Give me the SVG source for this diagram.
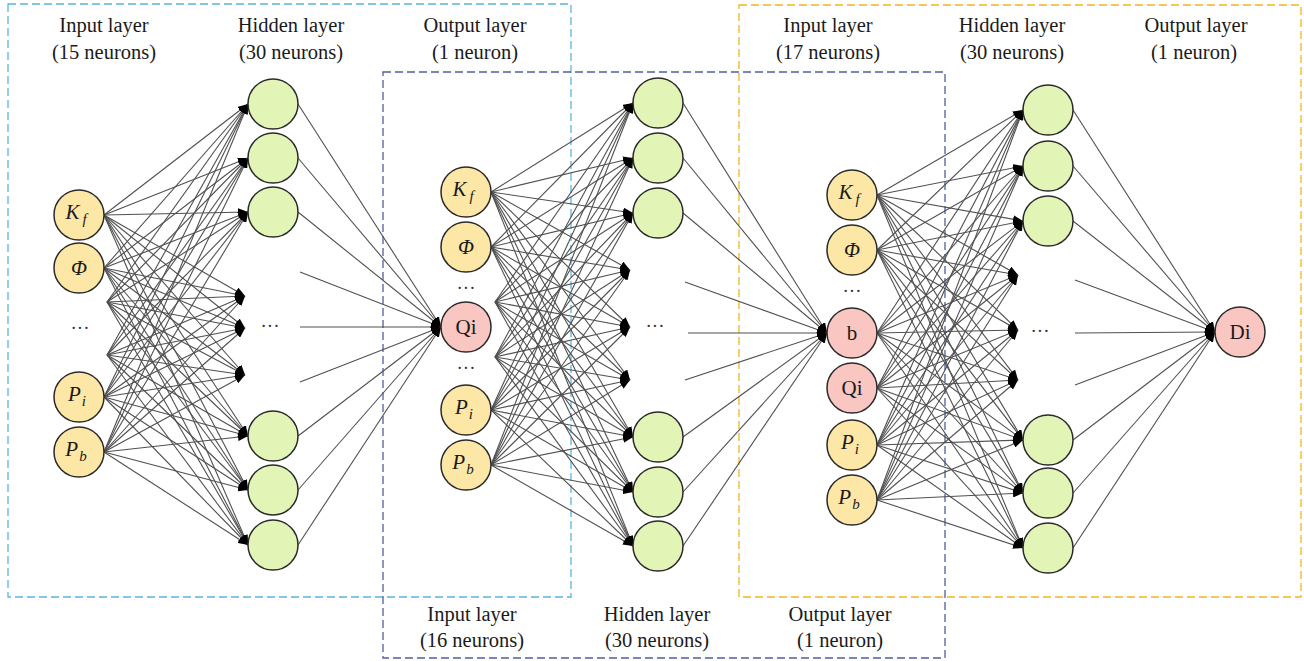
<svg xmlns="http://www.w3.org/2000/svg" width="1304" height="661" viewBox="0 0 1304 661">
<style>
  .lbl { font-family: "Liberation Serif", "DejaVu Serif", serif; font-size: 20.5px; fill: #1a1a1a; text-anchor: middle; }
  .nl { font-family: "Liberation Serif", "DejaVu Serif", serif; font-size: 21px; fill: #1a1a1a; text-anchor: middle; dominant-baseline: central; }
  .it { font-style: italic; }
  .sub { font-size: 15px; }
  .in { fill: #fde7a6; stroke: #2a2a2a; stroke-width: 1.5; }
  .hid { fill: #e2f5b6; stroke: #2a2a2a; stroke-width: 1.5; }
  .out { fill: #fac6c2; stroke: #2a2a2a; stroke-width: 1.5; }
  .dots { font-family: "Liberation Serif", "DejaVu Serif", serif; font-size: 19px; fill: #333; text-anchor: middle; }
  .edges line { stroke: #505050; stroke-width: 1.1; marker-end: url(#ah); }
  .box { fill: none; stroke-width: 1.3; stroke-dasharray: 8 4; }
</style>
<defs>
  <marker id="ah" viewBox="0 0 10 8" refX="10" refY="4" markerWidth="10" markerHeight="8" markerUnits="userSpaceOnUse" orient="auto">
    <path d="M0,0 L10,4 L0,8 z" fill="#000"/>
  </marker>
</defs>
<rect width="1304" height="661" fill="#fff"/>

<!-- dashed network frames -->
<g id="frames">
  <rect class="box" x="8" y="4" width="563" height="593" stroke="#5ab4e0"/>
  <rect class="box" x="383" y="72" width="562" height="586" stroke="#4f5fa0"/>
  <rect class="box" x="739" y="5" width="562" height="592" stroke="#f2b51c"/>
</g>

<!-- layer captions -->
<g id="captions">
  <text class="lbl" x="104" y="32">Input layer</text>
  <text class="lbl" x="104" y="59">(15 neurons)</text>
  <text class="lbl" x="291" y="32">Hidden layer</text>
  <text class="lbl" x="291" y="59">(30 neurons)</text>
  <text class="lbl" x="475" y="32">Output layer</text>
  <text class="lbl" x="475" y="59">(1 neuron)</text>
  <text class="lbl" x="828" y="32">Input layer</text>
  <text class="lbl" x="828" y="59">(17 neurons)</text>
  <text class="lbl" x="1012" y="32">Hidden layer</text>
  <text class="lbl" x="1012" y="59">(30 neurons)</text>
  <text class="lbl" x="1196" y="32">Output layer</text>
  <text class="lbl" x="1194" y="59">(1 neuron)</text>
  <text class="lbl" x="472" y="621">Input layer</text>
  <text class="lbl" x="472" y="647">(16 neurons)</text>
  <text class="lbl" x="657" y="621">Hidden layer</text>
  <text class="lbl" x="657" y="647">(30 neurons)</text>
  <text class="lbl" x="840" y="621">Output layer</text>
  <text class="lbl" x="840" y="647">(1 neuron)</text>
</g>

<!-- connections -->
<g id="connectors" class="edges">
  <!-- net 1: input -> hidden -->
  <line x1="104" y1="215" x2="248" y2="104"/><line x1="104" y1="215" x2="248" y2="158"/><line x1="104" y1="215" x2="248" y2="212"/><line x1="104" y1="215" x2="245" y2="296"/><line x1="104" y1="215" x2="245" y2="328"/><line x1="104" y1="215" x2="245" y2="375"/><line x1="104" y1="215" x2="248" y2="436"/><line x1="104" y1="215" x2="248" y2="490"/><line x1="104" y1="215" x2="248" y2="545"/>
  <line x1="104" y1="268" x2="248" y2="104"/><line x1="104" y1="268" x2="248" y2="158"/><line x1="104" y1="268" x2="248" y2="212"/><line x1="104" y1="268" x2="245" y2="296"/><line x1="104" y1="268" x2="245" y2="328"/><line x1="104" y1="268" x2="245" y2="375"/><line x1="104" y1="268" x2="248" y2="436"/><line x1="104" y1="268" x2="248" y2="490"/><line x1="104" y1="268" x2="248" y2="545"/>
  <line x1="107" y1="302" x2="248" y2="104"/><line x1="107" y1="302" x2="248" y2="158"/><line x1="107" y1="302" x2="248" y2="212"/><line x1="107" y1="302" x2="245" y2="296"/><line x1="107" y1="302" x2="245" y2="328"/><line x1="107" y1="302" x2="245" y2="375"/><line x1="107" y1="302" x2="248" y2="436"/><line x1="107" y1="302" x2="248" y2="490"/><line x1="107" y1="302" x2="248" y2="545"/>
  <line x1="107" y1="355" x2="248" y2="104"/><line x1="107" y1="355" x2="248" y2="158"/><line x1="107" y1="355" x2="248" y2="212"/><line x1="107" y1="355" x2="245" y2="296"/><line x1="107" y1="355" x2="245" y2="328"/><line x1="107" y1="355" x2="245" y2="375"/><line x1="107" y1="355" x2="248" y2="436"/><line x1="107" y1="355" x2="248" y2="490"/><line x1="107" y1="355" x2="248" y2="545"/>
  <line x1="104" y1="397" x2="248" y2="104"/><line x1="104" y1="397" x2="248" y2="158"/><line x1="104" y1="397" x2="248" y2="212"/><line x1="104" y1="397" x2="245" y2="296"/><line x1="104" y1="397" x2="245" y2="328"/><line x1="104" y1="397" x2="245" y2="375"/><line x1="104" y1="397" x2="248" y2="436"/><line x1="104" y1="397" x2="248" y2="490"/><line x1="104" y1="397" x2="248" y2="545"/>
  <line x1="104" y1="452" x2="248" y2="104"/><line x1="104" y1="452" x2="248" y2="158"/><line x1="104" y1="452" x2="248" y2="212"/><line x1="104" y1="452" x2="245" y2="296"/><line x1="104" y1="452" x2="245" y2="328"/><line x1="104" y1="452" x2="245" y2="375"/><line x1="104" y1="452" x2="248" y2="436"/><line x1="104" y1="452" x2="248" y2="490"/><line x1="104" y1="452" x2="248" y2="545"/>
  <!-- net 1: hidden -> Qi -->
  <line x1="298" y1="104" x2="441" y2="327"/><line x1="298" y1="158" x2="441" y2="327"/><line x1="298" y1="212" x2="441" y2="327"/><line x1="300" y1="272" x2="441" y2="327"/><line x1="300" y1="327" x2="441" y2="327"/><line x1="300" y1="382" x2="441" y2="327"/><line x1="298" y1="436" x2="441" y2="327"/><line x1="298" y1="490" x2="441" y2="327"/><line x1="298" y1="545" x2="441" y2="327"/>

  <!-- net 2: input -> hidden -->
  <line x1="491" y1="192" x2="633" y2="103"/><line x1="491" y1="192" x2="633" y2="158"/><line x1="491" y1="192" x2="633" y2="213"/><line x1="491" y1="192" x2="630" y2="270"/><line x1="491" y1="192" x2="630" y2="327"/><line x1="491" y1="192" x2="630" y2="380"/><line x1="491" y1="192" x2="633" y2="437"/><line x1="491" y1="192" x2="633" y2="492"/><line x1="491" y1="192" x2="633" y2="546"/>
  <line x1="491" y1="247" x2="633" y2="103"/><line x1="491" y1="247" x2="633" y2="158"/><line x1="491" y1="247" x2="633" y2="213"/><line x1="491" y1="247" x2="630" y2="270"/><line x1="491" y1="247" x2="630" y2="327"/><line x1="491" y1="247" x2="630" y2="380"/><line x1="491" y1="247" x2="633" y2="437"/><line x1="491" y1="247" x2="633" y2="492"/><line x1="491" y1="247" x2="633" y2="546"/>
  <line x1="495" y1="302" x2="633" y2="103"/><line x1="495" y1="302" x2="633" y2="158"/><line x1="495" y1="302" x2="633" y2="213"/><line x1="495" y1="302" x2="630" y2="270"/><line x1="495" y1="302" x2="630" y2="327"/><line x1="495" y1="302" x2="630" y2="380"/><line x1="495" y1="302" x2="633" y2="437"/><line x1="495" y1="302" x2="633" y2="492"/><line x1="495" y1="302" x2="633" y2="546"/>
  <line x1="495" y1="357" x2="633" y2="103"/><line x1="495" y1="357" x2="633" y2="158"/><line x1="495" y1="357" x2="633" y2="213"/><line x1="495" y1="357" x2="630" y2="270"/><line x1="495" y1="357" x2="630" y2="327"/><line x1="495" y1="357" x2="630" y2="380"/><line x1="495" y1="357" x2="633" y2="437"/><line x1="495" y1="357" x2="633" y2="492"/><line x1="495" y1="357" x2="633" y2="546"/>
  <line x1="491" y1="410" x2="633" y2="103"/><line x1="491" y1="410" x2="633" y2="158"/><line x1="491" y1="410" x2="633" y2="213"/><line x1="491" y1="410" x2="630" y2="270"/><line x1="491" y1="410" x2="630" y2="327"/><line x1="491" y1="410" x2="630" y2="380"/><line x1="491" y1="410" x2="633" y2="437"/><line x1="491" y1="410" x2="633" y2="492"/><line x1="491" y1="410" x2="633" y2="546"/>
  <line x1="491" y1="465" x2="633" y2="103"/><line x1="491" y1="465" x2="633" y2="158"/><line x1="491" y1="465" x2="633" y2="213"/><line x1="491" y1="465" x2="630" y2="270"/><line x1="491" y1="465" x2="630" y2="327"/><line x1="491" y1="465" x2="630" y2="380"/><line x1="491" y1="465" x2="633" y2="437"/><line x1="491" y1="465" x2="633" y2="492"/><line x1="491" y1="465" x2="633" y2="546"/>
  <!-- net 2: hidden -> b -->
  <line x1="683" y1="103" x2="827" y2="333"/><line x1="683" y1="158" x2="827" y2="333"/><line x1="683" y1="213" x2="827" y2="333"/><line x1="685" y1="282" x2="827" y2="333"/><line x1="688" y1="333" x2="827" y2="333"/><line x1="685" y1="380" x2="827" y2="333"/><line x1="683" y1="437" x2="827" y2="333"/><line x1="683" y1="492" x2="827" y2="333"/><line x1="683" y1="546" x2="827" y2="333"/>

  <!-- net 3: input -> hidden -->
  <line x1="877" y1="195" x2="1023" y2="110"/><line x1="877" y1="195" x2="1023" y2="166"/><line x1="877" y1="195" x2="1023" y2="221"/><line x1="877" y1="195" x2="1018" y2="275"/><line x1="877" y1="195" x2="1018" y2="330"/><line x1="877" y1="195" x2="1018" y2="380"/><line x1="877" y1="195" x2="1023" y2="440"/><line x1="877" y1="195" x2="1023" y2="493"/><line x1="877" y1="195" x2="1023" y2="548"/>
  <line x1="877" y1="250" x2="1023" y2="110"/><line x1="877" y1="250" x2="1023" y2="166"/><line x1="877" y1="250" x2="1023" y2="221"/><line x1="877" y1="250" x2="1018" y2="275"/><line x1="877" y1="250" x2="1018" y2="330"/><line x1="877" y1="250" x2="1018" y2="380"/><line x1="877" y1="250" x2="1023" y2="440"/><line x1="877" y1="250" x2="1023" y2="493"/><line x1="877" y1="250" x2="1023" y2="548"/>
  <line x1="877" y1="333" x2="1023" y2="110"/><line x1="877" y1="333" x2="1023" y2="166"/><line x1="877" y1="333" x2="1023" y2="221"/><line x1="877" y1="333" x2="1018" y2="275"/><line x1="877" y1="333" x2="1018" y2="330"/><line x1="877" y1="333" x2="1018" y2="380"/><line x1="877" y1="333" x2="1023" y2="440"/><line x1="877" y1="333" x2="1023" y2="493"/><line x1="877" y1="333" x2="1023" y2="548"/>
  <line x1="877" y1="388" x2="1023" y2="110"/><line x1="877" y1="388" x2="1023" y2="166"/><line x1="877" y1="388" x2="1023" y2="221"/><line x1="877" y1="388" x2="1018" y2="275"/><line x1="877" y1="388" x2="1018" y2="330"/><line x1="877" y1="388" x2="1018" y2="380"/><line x1="877" y1="388" x2="1023" y2="440"/><line x1="877" y1="388" x2="1023" y2="493"/><line x1="877" y1="388" x2="1023" y2="548"/>
  <line x1="877" y1="445" x2="1023" y2="110"/><line x1="877" y1="445" x2="1023" y2="166"/><line x1="877" y1="445" x2="1023" y2="221"/><line x1="877" y1="445" x2="1018" y2="275"/><line x1="877" y1="445" x2="1018" y2="330"/><line x1="877" y1="445" x2="1018" y2="380"/><line x1="877" y1="445" x2="1023" y2="440"/><line x1="877" y1="445" x2="1023" y2="493"/><line x1="877" y1="445" x2="1023" y2="548"/>
  <line x1="877" y1="500" x2="1023" y2="110"/><line x1="877" y1="500" x2="1023" y2="166"/><line x1="877" y1="500" x2="1023" y2="221"/><line x1="877" y1="500" x2="1018" y2="275"/><line x1="877" y1="500" x2="1018" y2="330"/><line x1="877" y1="500" x2="1018" y2="380"/><line x1="877" y1="500" x2="1023" y2="440"/><line x1="877" y1="500" x2="1023" y2="493"/><line x1="877" y1="500" x2="1023" y2="548"/>
  <!-- net 3: hidden -> Di -->
  <line x1="1073" y1="110" x2="1215" y2="332"/><line x1="1073" y1="166" x2="1215" y2="332"/><line x1="1073" y1="221" x2="1215" y2="332"/><line x1="1075" y1="280" x2="1215" y2="332"/><line x1="1075" y1="333" x2="1215" y2="332"/><line x1="1075" y1="385" x2="1215" y2="332"/><line x1="1073" y1="440" x2="1215" y2="332"/><line x1="1073" y1="493" x2="1215" y2="332"/><line x1="1073" y1="548" x2="1215" y2="332"/>
</g>

<!-- net 1 nodes -->
<g id="n1-kf"><circle class="in" cx="79" cy="215" r="25"/><text class="nl it" x="76" y="212">K<tspan class="sub" dx="3" dy="7">f</tspan></text></g>
<g id="n1-phi"><circle class="in" cx="79" cy="268" r="25"/><text class="nl it" x="79" y="268">Φ</text></g>
<g id="n1-dots"><text class="dots" x="80" y="334">···</text></g>
<g id="n1-pi"><circle class="in" cx="79" cy="397" r="25"/><text class="nl it" x="77" y="394">P<tspan class="sub" dx="1" dy="7">i</tspan></text></g>
<g id="n1-pb"><circle class="in" cx="79" cy="452" r="25"/><text class="nl it" x="76" y="449">P<tspan class="sub" dx="1" dy="7">b</tspan></text></g>
<g id="h1-1"><circle class="hid" cx="273" cy="104" r="25"/></g>
<g id="h1-2"><circle class="hid" cx="273" cy="158" r="25"/></g>
<g id="h1-3"><circle class="hid" cx="273" cy="212" r="25"/></g>
<g id="h1-dots"><text class="dots" x="270" y="332">···</text></g>
<g id="h1-4"><circle class="hid" cx="273" cy="436" r="25"/></g>
<g id="h1-5"><circle class="hid" cx="273" cy="490" r="25"/></g>
<g id="h1-6"><circle class="hid" cx="273" cy="545" r="25"/></g>
<g id="n1-qi"><circle class="out" cx="466" cy="327" r="25"/><text class="nl" x="466" y="327">Qi</text></g>

<!-- net 2 nodes -->
<g id="n2-kf"><circle class="in" cx="466" cy="192" r="25"/><text class="nl it" x="463" y="189">K<tspan class="sub" dx="3" dy="7">f</tspan></text></g>
<g id="n2-phi"><circle class="in" cx="466" cy="247" r="25"/><text class="nl it" x="466" y="247">Φ</text></g>
<g id="n2-dots-a"><text class="dots" x="466" y="294">···</text></g>
<g id="n2-dots-b"><text class="dots" x="466" y="374">···</text></g>
<g id="n2-pi"><circle class="in" cx="466" cy="410" r="25"/><text class="nl it" x="464" y="407">P<tspan class="sub" dx="1" dy="7">i</tspan></text></g>
<g id="n2-pb"><circle class="in" cx="466" cy="465" r="25"/><text class="nl it" x="463" y="462">P<tspan class="sub" dx="1" dy="7">b</tspan></text></g>
<g id="h2-1"><circle class="hid" cx="658" cy="103" r="25"/></g>
<g id="h2-2"><circle class="hid" cx="658" cy="158" r="25"/></g>
<g id="h2-3"><circle class="hid" cx="658" cy="213" r="25"/></g>
<g id="h2-dots"><text class="dots" x="655" y="332">···</text></g>
<g id="h2-4"><circle class="hid" cx="658" cy="437" r="25"/></g>
<g id="h2-5"><circle class="hid" cx="658" cy="492" r="25"/></g>
<g id="h2-6"><circle class="hid" cx="658" cy="546" r="25"/></g>

<!-- net 3 nodes -->
<g id="n3-kf"><circle class="in" cx="852" cy="195" r="25"/><text class="nl it" x="849" y="192">K<tspan class="sub" dx="3" dy="7">f</tspan></text></g>
<g id="n3-phi"><circle class="in" cx="852" cy="250" r="25"/><text class="nl it" x="852" y="250">Φ</text></g>
<g id="n3-dots"><text class="dots" x="852" y="297">···</text></g>
<g id="n3-b"><circle class="out" cx="852" cy="333" r="25"/><text class="nl" x="852" y="333">b</text></g>
<g id="n3-qi"><circle class="out" cx="852" cy="388" r="25"/><text class="nl" x="852" y="388">Qi</text></g>
<g id="n3-pi"><circle class="in" cx="852" cy="445" r="25"/><text class="nl it" x="850" y="442">P<tspan class="sub" dx="1" dy="7">i</tspan></text></g>
<g id="n3-pb"><circle class="in" cx="852" cy="500" r="25"/><text class="nl it" x="849" y="497">P<tspan class="sub" dx="1" dy="7">b</tspan></text></g>
<g id="h3-1"><circle class="hid" cx="1048" cy="110" r="25"/></g>
<g id="h3-2"><circle class="hid" cx="1048" cy="166" r="25"/></g>
<g id="h3-3"><circle class="hid" cx="1048" cy="221" r="25"/></g>
<g id="h3-dots"><text class="dots" x="1040" y="337">···</text></g>
<g id="h3-4"><circle class="hid" cx="1048" cy="440" r="25"/></g>
<g id="h3-5"><circle class="hid" cx="1048" cy="493" r="25"/></g>
<g id="h3-6"><circle class="hid" cx="1048" cy="548" r="25"/></g>
<g id="n3-di"><circle class="out" cx="1240" cy="332" r="25"/><text class="nl" x="1240" y="332">Di</text></g>
</svg>
